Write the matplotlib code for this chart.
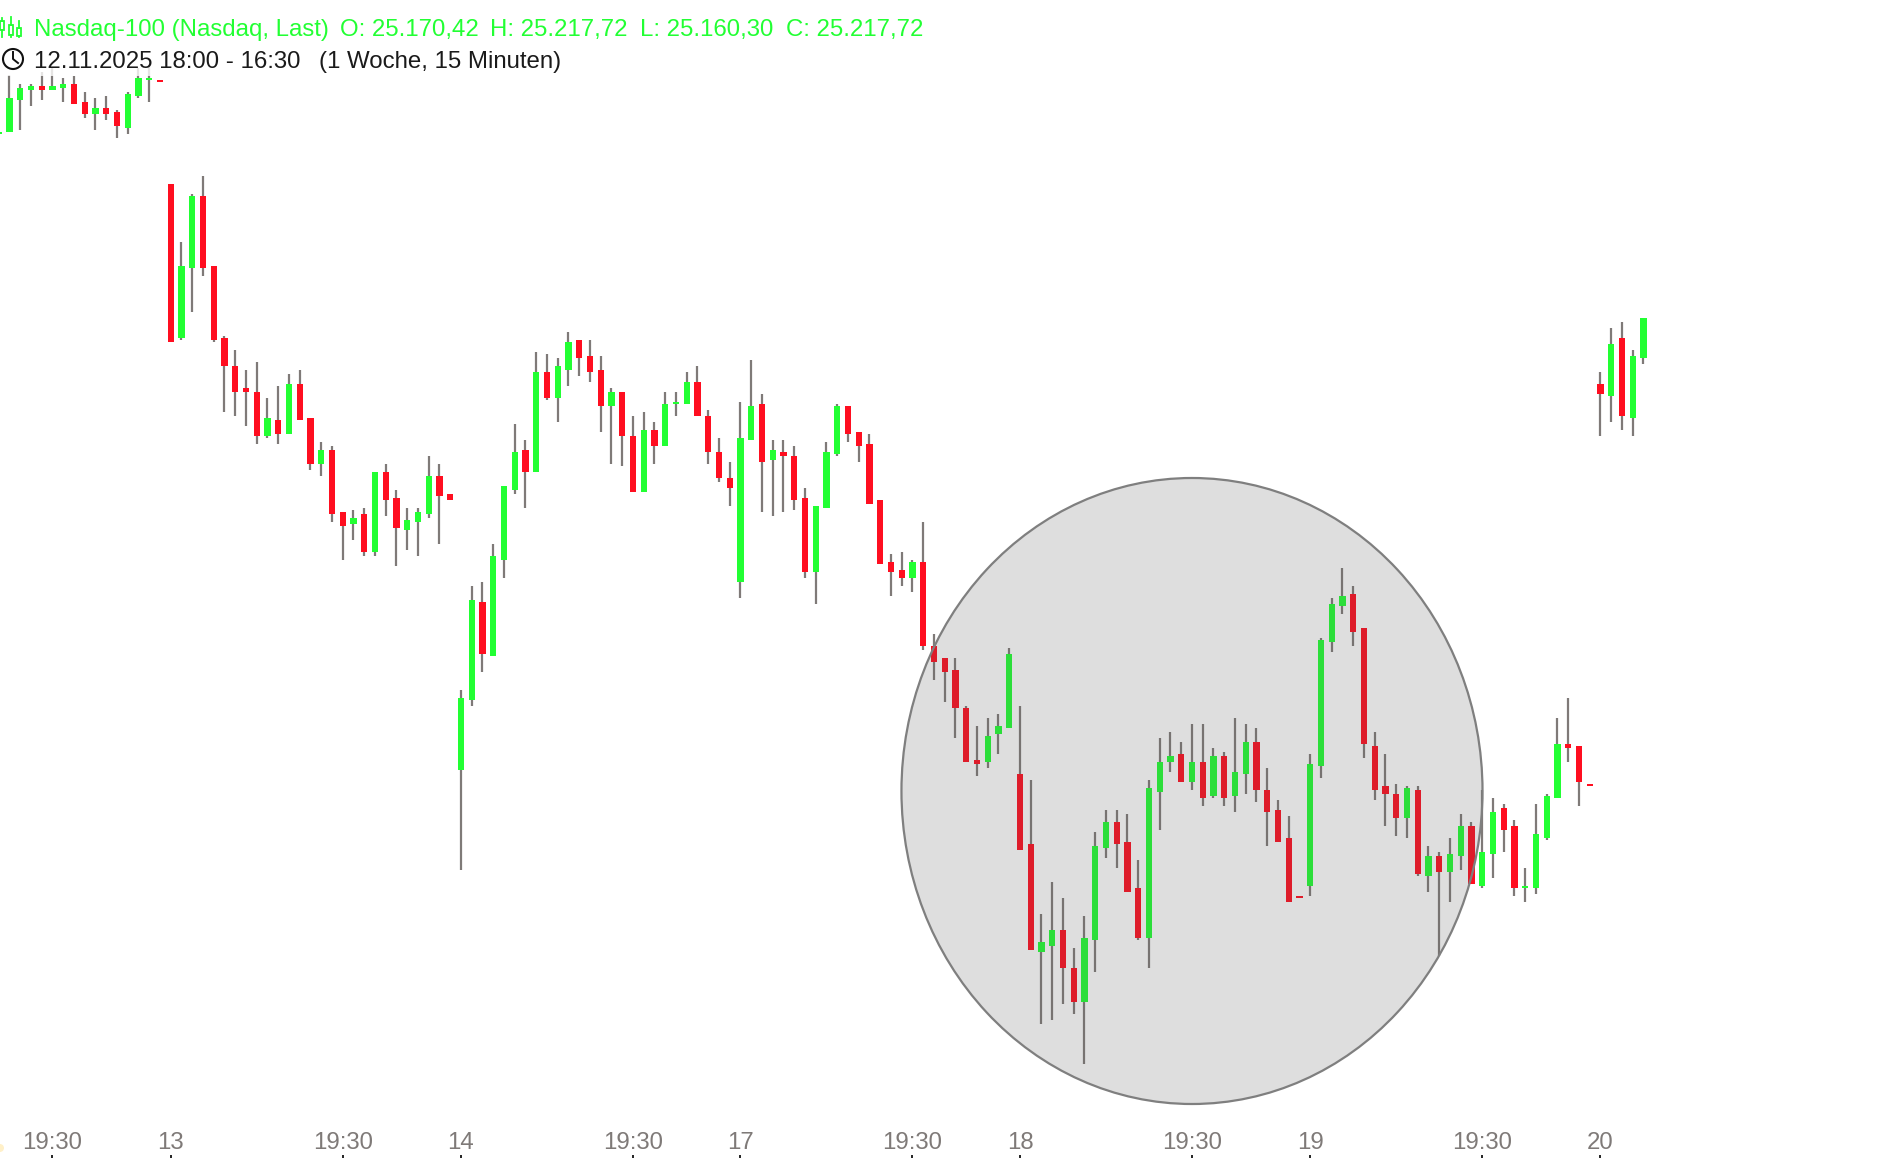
import numpy as np
from matplotlib import pyplot as plt
from matplotlib import transforms
from matplotlib.patches import Ellipse, Rectangle, Circle

plt.rcParams['font.family'] = ['Liberation Sans', 'DejaVu Sans']

# no price axis on the chart, so levels are read as distance below the top edge
direction = list(
    "GGGGRGGRRGRRGGGR"
    "RGGRRRRRRGRGRRGRRGRGRRGGGRR"
    "GGRGGGRGRGGRRRGRRGRGGGRRRRG"
    "GRGRRRGGGRRRRRRGR"
    "RRRRRGGGRRGGRRGGGRRRG"
    "GGRGRGRGGRRRRRGGGGRRRRRGRGRGGRGGRRGGGGRRRRGRGG"
)
body_top = [
    132, 98, 88, 86, 86, 86, 84, 84, 102, 108, 108, 112, 94, 78, 78, 80,
    184, 266, 196, 196, 266, 338, 366, 388, 392, 418, 420, 384, 384, 418, 450, 450, 512, 518, 514, 472, 472, 498, 520, 512, 476, 476, 494,
    698, 600, 602, 556, 486, 452, 450, 372, 372, 366, 342, 340, 356, 370, 392, 392, 436, 430, 430, 404, 402, 382, 382, 416, 452, 478, 438,
    406, 404, 450, 452, 456, 498, 506, 452, 406, 406, 432, 444, 500, 562, 570, 562, 562,
    646, 658, 670, 708, 760, 736, 726, 654, 774, 844, 942, 930, 930, 968, 938, 846, 822, 822, 842, 888, 788,
    762, 756, 754, 762, 762, 756, 756, 772, 742, 742, 790, 810, 838, 896, 764, 640, 604, 596, 594, 628, 746, 786, 794, 788, 790, 856, 856, 854, 826, 826, 852, 812, 808, 826, 886, 834, 796, 744, 744, 746, 784, 384, 344, 338, 356, 318,
]
body_bottom = [
    134, 132, 100, 90, 90, 90, 88, 104, 114, 114, 114, 126, 128, 96, 80, 82,
    342, 338, 268, 268, 340, 366, 392, 392, 436, 436, 434, 434, 420, 464, 464, 514, 526, 524, 552, 552, 500, 528, 530, 522, 514, 496, 500,
    770, 700, 654, 656, 560, 490, 472, 472, 398, 398, 370, 358, 372, 406, 406, 436, 492, 492, 446, 446, 404, 404, 416, 452, 478, 488, 582,
    440, 462, 460, 456, 500, 572, 572, 508, 454, 434, 446, 504, 564, 572, 578, 578, 646,
    662, 672, 708, 762, 764, 762, 734, 728, 850, 950, 952, 946, 968, 1002, 1002, 940, 848, 844, 892, 938, 938,
    792, 762, 782, 782, 798, 796, 798, 796, 774, 790, 812, 842, 902, 898, 886, 766, 642, 606, 632, 744, 790, 794, 818, 818, 874, 876, 872, 872, 856, 884, 886, 854, 830, 888, 888, 888, 838, 798, 748, 782, 786, 394, 396, 416, 418, 358,
]
high = [
    132, 75, 84, 84, 72, 68, 78, 76, 92, 98, 96, 110, 92, 68, 65, 80,
    184, 242, 194, 176, 266, 336, 350, 370, 362, 398, 386, 374, 370, 418, 442, 446, 512, 510, 508, 472, 464, 490, 508, 508, 456, 464, 494,
    690, 586, 582, 544, 486, 424, 440, 352, 354, 358, 332, 340, 340, 356, 388, 392, 416, 412, 422, 392, 392, 372, 366, 410, 438, 462, 402,
    360, 394, 440, 440, 446, 488, 506, 442, 404, 406, 432, 434, 500, 554, 552, 560, 522,
    634, 658, 658, 706, 726, 718, 714, 648, 706, 780, 914, 882, 898, 948, 916, 832, 810, 810, 814, 860, 780,
    738, 732, 742, 724, 724, 748, 752, 718, 724, 728, 768, 800, 816, 896, 754, 638, 598, 568, 586, 628, 732, 754, 784, 786, 786, 846, 852, 838, 814, 822, 790, 798, 804, 820, 868, 804, 794, 718, 698, 746, 784, 372, 328, 322, 350, 318,
]
low = [
    134, 132, 130, 106, 100, 90, 102, 104, 118, 130, 120, 138, 134, 98, 102, 82,
    342, 340, 312, 276, 342, 412, 416, 426, 444, 438, 444, 434, 420, 470, 476, 522, 560, 540, 556, 556, 516, 566, 550, 556, 518, 544, 500,
    870, 706, 672, 656, 578, 494, 508, 472, 400, 422, 386, 376, 382, 432, 464, 466, 492, 492, 464, 446, 416, 404, 416, 464, 482, 506, 598,
    440, 512, 516, 512, 510, 578, 604, 508, 456, 442, 462, 504, 564, 596, 586, 592, 650,
    680, 702, 738, 762, 776, 768, 754, 728, 850, 950, 1024, 1020, 1004, 1014, 1064, 972, 858, 868, 892, 940, 968,
    830, 772, 782, 790, 806, 798, 806, 812, 794, 802, 846, 842, 902, 898, 896, 778, 652, 614, 646, 758, 800, 826, 836, 838, 876, 892, 956, 902, 870, 884, 888, 878, 852, 896, 902, 894, 840, 798, 762, 806, 786, 436, 422, 430, 436, 364,
]

tick_pos = [4, 15, 31, 42, 58, 68, 84, 94, 110, 121, 137, 148]
tick_labels = ['19:30', '13', '19:30', '14', '19:30', '17', '19:30', '18', '19:30', '19', '19:30', '20']

GREEN = '#22ff33'
RED = '#ff0e20'
WICK = '#7f7a78'
GREY_TEXT = '#7f7a78'

x = np.arange(len(body_top)) - 1
body_top = np.array(body_top)
body_bottom = np.array(body_bottom)
colors = [GREEN if d == 'G' else RED for d in direction]

fig = plt.figure(figsize=(18.8, 11.58), dpi=100)
ax = fig.add_axes([0, 0, 1, 1])
ax.set_xlim(-0.88, 174.0)
ax.set_ylim(1158, 0)
for s in ax.spines.values():
    s.set_visible(False)

ax.vlines(x, high, low, colors=WICK, linewidth=1.6, zorder=2)
ax.bar(x, body_bottom - body_top, bottom=body_top, width=0.58, color=colors, linewidth=0, zorder=3)

# shaded circle over the candles
ax.add_patch(Ellipse((110, 791), 54.05, 626, facecolor=(0.343, 0.343, 0.343, 0.195),
                     edgecolor='#7f7f7f', linewidth=1.6, zorder=4))

ax.set_yticks([])
ax.set_xticks(tick_pos)
ax.set_xticklabels(tick_labels, color=GREY_TEXT, fontsize=17.3)
ax.tick_params(axis='x', direction='in', length=2.2, width=1.4, color='#222222', pad=-18.6)

# header, positioned in image pixels
px = transforms.Affine2D().scale(1, -1).translate(0, 1158)

ax.add_patch(Rectangle((0, 0), 1880, 76, transform=px, facecolor='white', alpha=0.8, linewidth=0, zorder=5))

for txt, left in [('Nasdaq-100 (Nasdaq, Last)', 34.5), ('O: 25.170,42', 340), ('H: 25.217,72', 490),
                  ('L: 25.160,30', 640), ('C: 25.217,72', 786)]:
    ax.text(left, 36, txt, transform=px, color=GREEN, fontsize=17.3, va='baseline', ha='left', zorder=6)
for txt, left in [('12.11.2025 18:00 - 16:30', 34.5), ('(1 Woche, 15 Minuten)', 319)]:
    ax.text(left, 68, txt, transform=px, color='#1a1a1a', fontsize=17.3, va='baseline', ha='left', zorder=6)

# candle icon
for cx, y0, y1, b0, b1 in [(2, 18, 37, 21, 30), (11, 17, 37, 25, 35), (19, 21, 37, 28, 36)]:
    ax.plot([cx, cx], [y0, b0], transform=px, color=GREEN, lw=1.3, zorder=6)
    ax.plot([cx, cx], [b1, y1], transform=px, color=GREEN, lw=1.3, zorder=6)
    ax.add_patch(Rectangle((cx - 2, b0), 4, b1 - b0, transform=px, fill=False, edgecolor=GREEN, lw=1.3, zorder=6))

# clock icon
ax.add_patch(Circle((13, 59), 10, transform=px, fill=False, edgecolor='#111111', lw=1.5, zorder=6))
ax.plot([13, 13, 18], [52, 59, 63], transform=px, color='#111111', lw=1.4, zorder=6)

# small marker at the lower left edge
ax.add_patch(Circle((0, 1148), 4, transform=px, facecolor='#fff0c8', linewidth=0, zorder=6))

fig.savefig('out.png', dpi=100)
